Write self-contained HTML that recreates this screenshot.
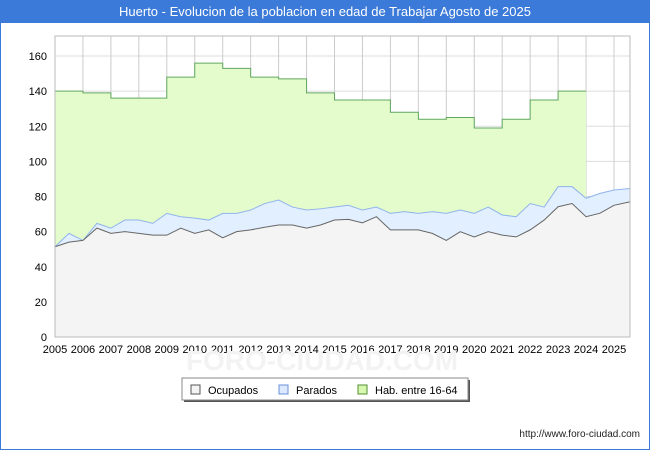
<!DOCTYPE html>
<html><head><meta charset="utf-8"><style>
body{margin:0;width:650px;height:450px;background:#fff;font-family:"Liberation Sans",sans-serif;overflow:hidden}
</style></head><body>
<svg width="650" height="450" xmlns="http://www.w3.org/2000/svg">
<rect x="0" y="0" width="650" height="22" fill="#3b7ad8"/>
<text x="325" y="16" text-anchor="middle" fill="#fff" font-size="13">Huerto - Evolucion de la poblacion en edad de Trabajar Agosto de 2025</text>
<rect x="0.5" y="22.5" width="649" height="427" fill="none" stroke="#3b7ad8"/>
<g id="grid"></g><g id="areas"></g><g id="axes"></g>
<text x="322" y="370" text-anchor="middle" fill="#f3f3f3" font-size="28" font-weight="bold">FORO-CIUDAD.COM</text>
<g>
<rect x="184" y="380" width="286" height="22" fill="#555"/>
<rect x="182" y="378" width="286" height="22" fill="#fff" stroke="#888"/>
<rect x="191" y="385" width="9" height="9" fill="#f4f4f4" stroke="#555"/>
<text x="208" y="394" font-size="11">Ocupados</text>
<rect x="279" y="385" width="9" height="9" fill="#dde9ff" stroke="#6890d8"/>
<text x="296" y="394" font-size="11">Parados</text>
<rect x="358" y="385" width="9" height="9" fill="#d8f8b0" stroke="#509030"/>
<text x="375" y="394" font-size="11">Hab. entre 16-64</text>
</g>
<text x="640" y="437" text-anchor="end" font-size="10" fill="#222">http://www.foro-ciudad.com</text>
</svg>
<script>
const years=[2005,2006,2007,2008,2009,2010,2011,2012,2013,2014,2015,2016,2017,2018,2019,2020,2021,2022,2023];
const hab=[140,139,136,136,148,156,153,148,147,139,135,135,128,124,125,119,124,135,140];
const times=[2005,2005.5,2006,2006.5,2007,2007.5,2008,2008.5,2009,2009.5,2010,2010.5,2011,2011.5,2012,2012.5,2013,2013.5,2014,2014.5,2015,2015.5,2016,2016.5,2017,2017.5,2018,2018.5,2019,2019.5,2020,2020.5,2021,2021.5,2022,2022.5,2023,2023.5,2024,2024.5,2025,2025.58];
const ocupados=[51.4,54,55,62,59,60,59,58,58,62,59,61,56.5,60,61,62.5,63.8,63.8,62,63.8,66.6,67,65,68.5,61,61,61,59,55,60,57,60,58,57,61,66.6,74.2,76,68.5,70.5,75,77];
const total=[51.4,59,55,64.7,62,66.6,66.6,64.7,70.4,68.5,67.7,66.6,70.4,70.4,72.3,76,78,74,72.3,73,74,75,72.3,74,70.4,71.4,70.4,71.4,70.4,72.3,70.4,74,69.5,68.5,76,74,85.6,85.6,79,81.8,83.7,84.6];
const yTicks=[0,20,40,60,80,100,120,140,160];
const xTicks=[2005,2006,2007,2008,2009,2010,2011,2012,2013,2014,2015,2016,2017,2018,2019,2020,2021,2022,2023,2024,2025];
const X0=55,X1=630,Y0=337,YT=36;
const xs=t=>X0+(t-2005)*27.95;
const ys=v=>Y0-v*1.756;
const NS='http://www.w3.org/2000/svg';
function mk(tag,attrs,parent){const e=document.createElementNS(NS,tag);for(const k in attrs)e.setAttribute(k,attrs[k]);document.getElementById(parent).appendChild(e);return e;}
mk('rect',{x:X0,y:YT,width:X1-X0,height:Y0-YT,fill:'#fff'},'grid');
yTicks.forEach(v=>{const l=mk('line',{x1:X0,x2:X1,y1:ys(v),y2:ys(v),stroke:'#ddd'},'grid');


const t=mk('text',{x:X0-8,y:ys(v)+4,'text-anchor':'end','font-size':11},'axes');t.textContent=v;

});
xTicks.forEach(y=>{const l=mk('line',{x1:xs(y),x2:xs(y),y1:YT,y2:Y0,stroke:'#ccc'},'grid');


const t=mk('text',{x:xs(y),y:Y0+16,'text-anchor':'middle','font-size':11},'axes');t.textContent=y;

});
let hp=[];years.forEach((y,i)=>{hp.push([xs(y),ys(hab[i])]);hp.push([xs(y+1),ys(hab[i])]);});
const tEnd=times.length-1;
let habArea='M'+xs(2005)+','+Y0+' '+hp.map(p=>'L'+p[0]+','+p[1]).join(' ');
times.forEach((t,i)=>{if(t>=2024)habArea+=' L'+xs(t)+','+ys(total[i]);});
habArea+=' L'+xs(times[tEnd])+','+Y0+' Z';
const ha=mk('path',{d:habArea,fill:'#e4fccb'},'areas');


const hl=mk('polyline',{points:hp.map(p=>p.join(',')).join(' '),fill:'none',stroke:'#60a860'},'areas');


function area(arr,fill,stroke,name){const pts=times.map((t,i)=>xs(t)+','+ys(arr[i]));
const a=mk('polygon',{points:xs(times[0])+','+Y0+' '+pts.join(' ')+' '+xs(times[tEnd])+','+Y0,fill:fill},'areas');


const l=mk('polyline',{points:pts.join(' '),fill:'none',stroke:stroke},'areas');

}
area(total,'#e1efff','#90b4ec','parados');
area(ocupados,'#f4f4f4','#666','ocupados');
mk('line',{x1:X0,x2:X0,y1:YT,y2:Y0,stroke:'#000'},'axes');
mk('line',{x1:X0,x2:X1,y1:Y0,y2:Y0,stroke:'#000'},'axes');
mk('rect',{x:X0,y:YT,width:X1-X0,height:Y0-YT,fill:'none',stroke:'#bbb'},'axes');
</script>
</body></html>
